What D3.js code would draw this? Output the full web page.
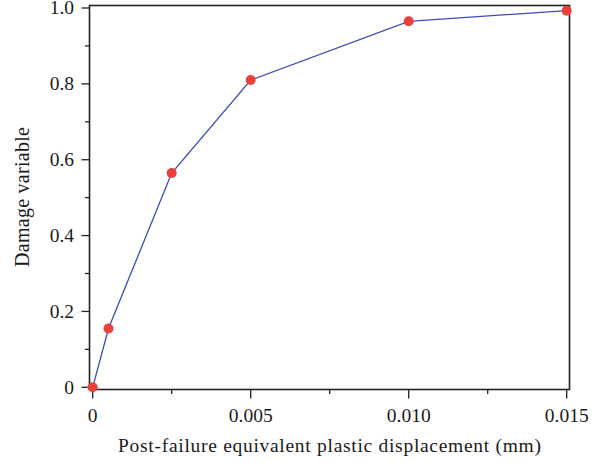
<!DOCTYPE html>
<html>
<head>
<meta charset="utf-8">
<script src="https://cdn.jsdelivr.net/npm/d3@7"></script>
<style>
  html, body { margin: 0; padding: 0; background: #fff; }
</style>
</head>
<body>
<svg id="chart" width="607" height="463"></svg>
<script>
// Damage evolution: damage variable vs post-failure equivalent plastic displacement
const displacement = [0, 0.0005, 0.0025, 0.005, 0.010, 0.015];
const damage = [0, 0.155, 0.565, 0.81, 0.965, 0.993];
const xTicks = [0, 0.005, 0.010, 0.015];
const xTickLabels = ["0", "0.005", "0.010", "0.015"];
const yTicks = [0, 0.2, 0.4, 0.6, 0.8, 1.0];
const yTickLabels = ["0", "0.2", "0.4", "0.6", "0.8", "1.0"];
const xTitle = "Post-failure equivalent plastic displacement (mm)";
const yTitle = "Damage variable";

const FONT = "'Liberation Serif', 'DejaVu Serif', serif";
const INK = "#1a1a1a";

const svg = d3.select("#chart");

const x = d3.scaleLinear().domain([0, 0.015]).range([92.7, 566.7]);
const y = d3.scaleLinear().domain([0, 1]).range([387.3, 8]);

// frame
const frame = { left: 89.5, right: 569.5, top: 5.5, bottom: 389.5 };
svg.append("rect")
  .attr("x", frame.left).attr("y", frame.top)
  .attr("width", frame.right - frame.left).attr("height", frame.bottom - frame.top)
  .attr("fill", "none").attr("stroke", "#222").attr("stroke-width", 1.6);

// y axis: major ticks with labels, minor ticks between
const yMinor = d3.range(0.1, 1.0, 0.2);
const yAxisG = svg.append("g");
yAxisG.selectAll("line.major").data(yTicks).join("line")
  .attr("class", "major")
  .attr("x1", frame.left - 8).attr("x2", frame.left)
  .attr("y1", d => y(d)).attr("y2", d => y(d))
  .attr("stroke", "#222").attr("stroke-width", 1.3);
yAxisG.selectAll("line.minor").data(yMinor).join("line")
  .attr("class", "minor")
  .attr("x1", frame.left - 4.5).attr("x2", frame.left)
  .attr("y1", d => y(d)).attr("y2", d => y(d))
  .attr("stroke", "#222").attr("stroke-width", 1.3);
yAxisG.selectAll("text").data(yTicks).join("text")
  .attr("x", 74).attr("y", d => y(d))
  .attr("dy", "0.32em").attr("text-anchor", "end")
  .attr("font-family", FONT).attr("fill", INK)
  .attr("font-size", 19.5)
  .text((d, i) => yTickLabels[i]);

// x axis
const xMinor = [0.0025, 0.0075, 0.0125];
const xAxisG = svg.append("g");
xAxisG.selectAll("line.major").data(xTicks).join("line")
  .attr("class", "major")
  .attr("y1", frame.bottom).attr("y2", frame.bottom + 9)
  .attr("x1", d => x(d)).attr("x2", d => x(d))
  .attr("stroke", "#222").attr("stroke-width", 1.3);
xAxisG.selectAll("line.minor").data(xMinor).join("line")
  .attr("class", "minor")
  .attr("y1", frame.bottom).attr("y2", frame.bottom + 4.5)
  .attr("x1", d => x(d)).attr("x2", d => x(d))
  .attr("stroke", "#222").attr("stroke-width", 1.3);
xAxisG.selectAll("text").data(xTicks).join("text")
  .attr("x", d => x(d)).attr("y", 422)
  .attr("text-anchor", "middle")
  .attr("font-family", FONT).attr("fill", INK)
  .attr("font-size", 19.5)
  .text((d, i) => xTickLabels[i]);

// axis titles
svg.append("text")
  .attr("x", 329.5).attr("y", 452)
  .attr("text-anchor", "middle").attr("font-size", 19.5)
  .attr("font-family", FONT).attr("fill", INK)
  .attr("textLength", 423).attr("lengthAdjust", "spacing")
  .text(xTitle);
svg.append("text")
  .attr("transform", "translate(29,197) rotate(-90)")
  .attr("text-anchor", "middle").attr("font-size", 20)
  .attr("font-family", FONT).attr("fill", INK)
  .attr("textLength", 140).attr("lengthAdjust", "spacing")
  .text(yTitle);

// series
const pts = displacement.map((d, i) => [d, damage[i]]);
svg.append("path")
  .datum(pts)
  .attr("fill", "none").attr("stroke", "#3f4bb5").attr("stroke-width", 1.3)
  .attr("d", d3.line().x(d => x(d[0])).y(d => y(d[1])));
svg.selectAll("circle").data(pts).join("circle")
  .attr("cx", d => x(d[0])).attr("cy", d => y(d[1]))
  .attr("r", 5).attr("fill", "#e8403b");
</script>
</body>
</html>
